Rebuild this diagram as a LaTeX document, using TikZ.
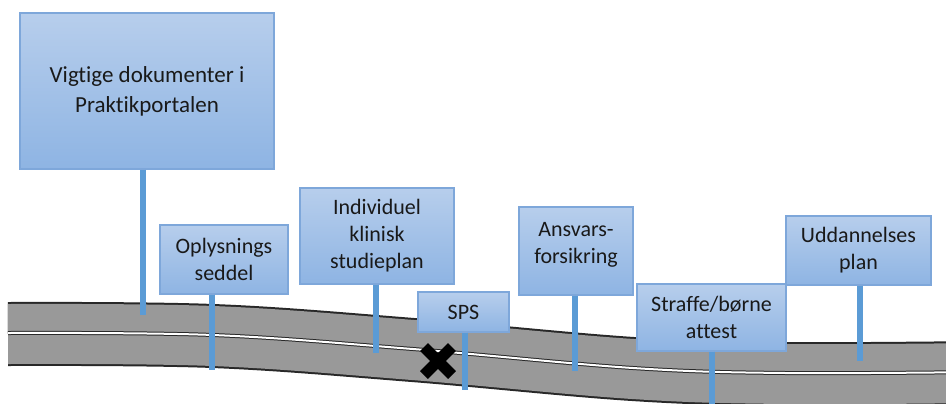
\documentclass[tikz,border=0pt]{standalone}
\usepackage{fontspec}
\setmainfont[Ligatures={NoCommon}]{Carlito}
\usepackage{tikz}

\definecolor{boxtop}{RGB}{183,206,236}
\definecolor{boxbottom}{RGB}{142,180,227}
\definecolor{boxline}{RGB}{126,167,218}
\definecolor{boxtext}{RGB}{25,25,25}
\definecolor{stemblue}{RGB}{91,155,213}
\definecolor{roadgrey}{RGB}{153,153,153}
\definecolor{roadedge}{RGB}{40,40,40}

\begin{document}
\begin{tikzpicture}[
		x=0.5pt, y=-0.5pt,
		box/.style={rectangle, draw=boxline, line width=0.6pt, top color=boxtop, bottom color=boxbottom,
			inner sep=0pt, align=center, text=boxtext, font=\fontsize{11}{13.5}\selectfont},
		stem/.style={draw=stemblue, line width=2.6pt},
		cross/.style={draw=black, line width=5.5pt, line cap=butt}
	]
  \useasboundingbox (0, 0) rectangle (946, 403);

  \draw [roadedge, line width=32pt] plot [smooth, tension=0.6] coordinates {(8, 334) (213, 336) (413, 350) (633, 369) (786, 374) (980, 373)};
  \draw [roadgrey, line width=30pt] plot [smooth, tension=0.6] coordinates {(8, 334) (213, 336) (413, 350) (633, 369) (786, 374) (980, 373)};
  \draw [roadedge, line width=2pt] plot [smooth, tension=0.6] coordinates {(8, 333) (213, 335) (413, 349) (633, 368) (786, 373) (980, 372)};
  \draw [white, line width=1pt] plot [smooth, tension=0.6] coordinates {(8, 333) (213, 335) (413, 349) (633, 368) (786, 373) (980, 372)};

  \coordinate (xmark) at (438, 361);
  \draw [cross] ([shift={(-14, -14)}]xmark) -- ([shift={(14, 14)}]xmark);
  \draw [cross] ([shift={(14, -14)}]xmark) -- ([shift={(-14, 14)}]xmark);

  \coordinate (bige) at (143, 315);
  \coordinate (oplye) at (212, 370);
  \coordinate (indive) at (376, 353);
  \coordinate (spse) at (465, 390);
  \coordinate (ansve) at (575, 371);
  \coordinate (strafe) at (712, 405);
  \coordinate (uddane) at (860, 361);

  \node (big) [box, minimum width=127pt, minimum height=78pt, font=\fontsize{11.5}{15}\selectfont] at (147, 91) {Vigtige dokumenter i\\Praktikportalen};
  \node (oplys) [box, minimum width=64pt, minimum height=34.5pt] at (224, 259.5) {Oplysnings\\seddel};
  \node (indiv) [box, minimum width=77pt, minimum height=48pt] at (377, 236) {Individuel\\klinisk\\studieplan};
  \node (ansv) [box, minimum width=57pt, minimum height=44pt] at (576, 251) {Ansvars-\\forsikring\\[-5.5pt]};
  \node (uddan) [box, minimum width=72.5pt, minimum height=34.5pt] at (858.5, 250.5) {Uddannelses\\plan};

  \draw [stem] (big.south -| bige) -- (bige);
  \draw [stem] (oplys.south -| oplye) -- (oplye);
  \draw [stem] (indiv.south -| indive) -- (indive);
  \draw [stem] (ansv.south -| ansve) -- (ansve);
  \draw [stem] (uddan.south -| uddane) -- (uddane);

  \node (sps) [box, minimum width=45.5pt, minimum height=20pt] at (463.5, 312) {SPS};
  \node (straf) [box, minimum width=74.5pt, minimum height=33.5pt] at (711.5, 317.5) {Straffe/børne\\attest};
  \draw [stem] (sps.south -| spse) -- (spse);
  \draw [stem] (straf.south -| strafe) -- (strafe);
\end{tikzpicture}
\end{document}
